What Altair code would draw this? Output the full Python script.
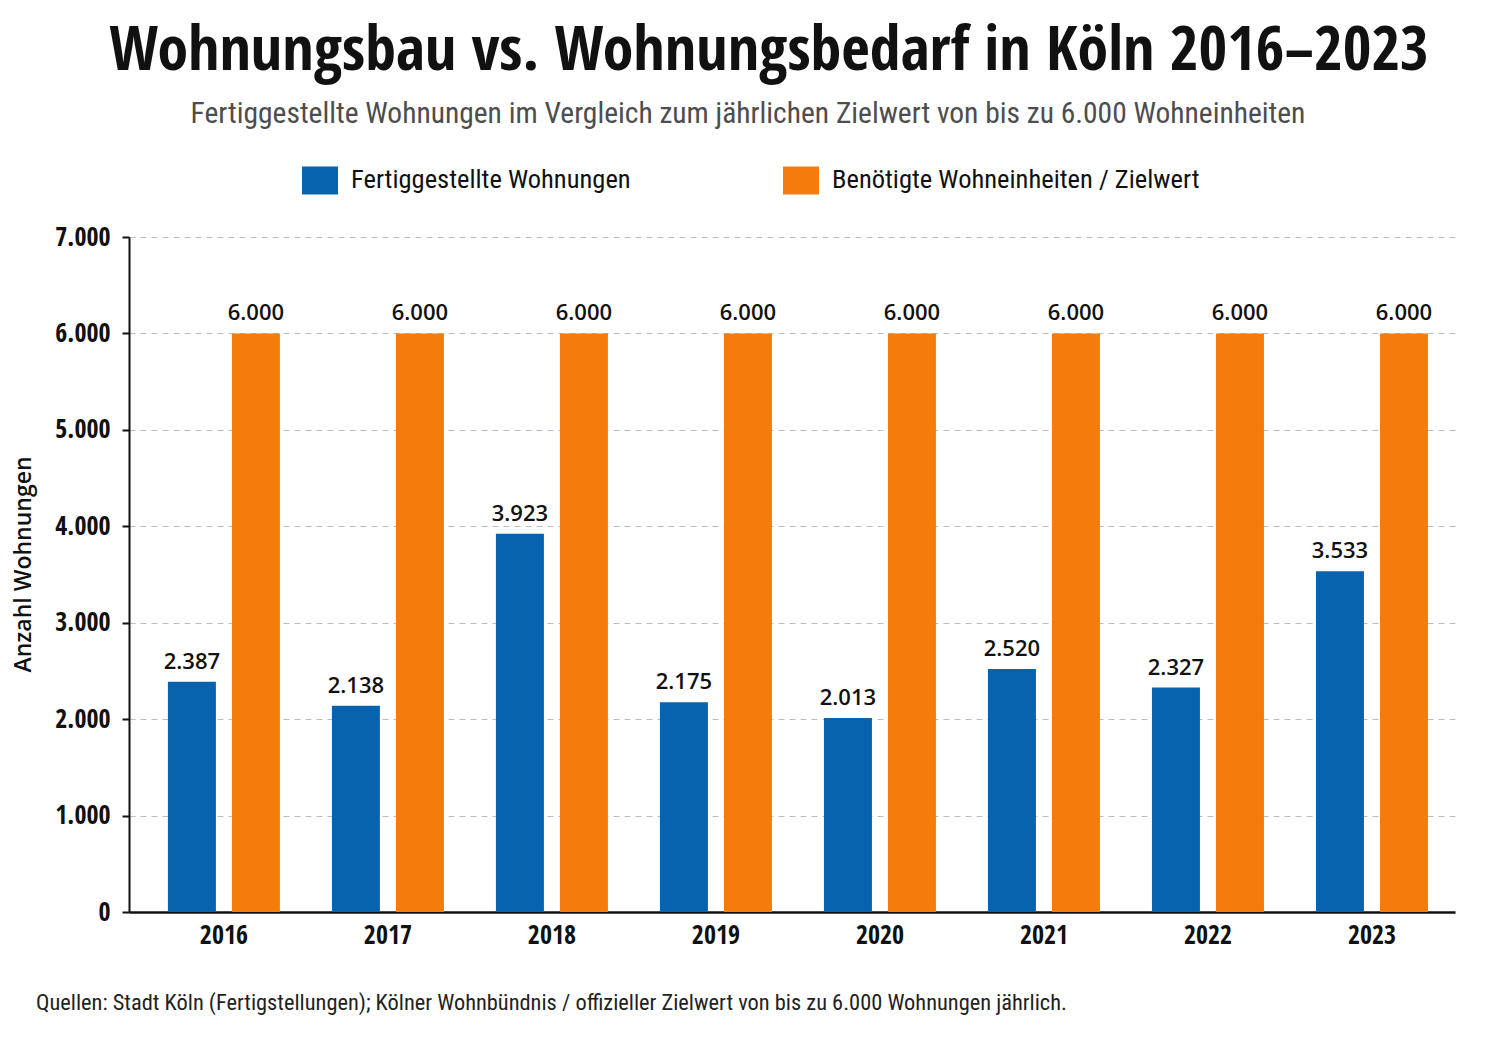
import altair as alt
import pandas as pd

# Completed dwellings in Cologne vs. the annual target
years = ["2016", "2017", "2018", "2019", "2020", "2021", "2022", "2023"]
completed = [2387, 2138, 3923, 2175, 2013, 2520, 2327, 3533]
target = [6000, 6000, 6000, 6000, 6000, 6000, 6000, 6000]
series = ["Fertiggestellte Wohnungen", "Benötigte Wohneinheiten / Zielwert"]
colors = ["#0863AE", "#F57C0A"]
y_ticks = [0, 1000, 2000, 3000, 4000, 5000, 6000, 7000]

title_text = "Wohnungsbau vs. Wohnungsbedarf in Köln 2016–2023"
subtitle_text = "Fertiggestellte Wohnungen im Vergleich zum jährlichen Zielwert von bis zu 6.000 Wohneinheiten"
source_text = "Quellen: Stadt Köln (Fertigstellungen); Kölner Wohnbündnis / offizieller Zielwert von bis zu 6.000 Wohnungen jährlich."

rows = []
for i, yr in enumerate(years):
    rows.append({"Jahr": yr, "Reihe": series[0], "Wert": completed[i]})
    rows.append({"Jahr": yr, "Reihe": series[1], "Wert": target[i]})
df = pd.DataFrame(rows)

BOLD_FONT = "Open Sans Condensed"
TEXT_FONT = "Roboto Condensed"
W, H = 1326, 675

de_fmt = "replace(format(datum.value, ','), ',', '.')"

base = alt.Chart(df).transform_calculate(
    label="replace(format(datum.Wert, ','), ',', '.')"
).encode(
    x=alt.X(
        "Jahr:N",
        sort=years,
        title=None,
        scale=alt.Scale(paddingInner=0.317, paddingOuter=0.201, align=0.59),
        axis=alt.Axis(
            labelAngle=0,
            labelFont=BOLD_FONT,
            labelFontSize=26,
            labelFontWeight="bold",
            labelColor="#111111",
            labelPadding=10,
            ticks=False,
            domainColor="#111111",
            domainWidth=2.5,
            grid=False,
        ),
    ),
    xOffset=alt.XOffset("Reihe:N", sort=series, scale=alt.Scale(paddingInner=0.25)),
    y=alt.Y(
        "Wert:Q",
        scale=alt.Scale(domain=[0, 7000], nice=False),
        axis=alt.Axis(
            values=y_ticks,
            labelExpr=de_fmt,
            labelFont=BOLD_FONT,
            labelFontSize=26,
            labelFontWeight="bold",
            labelColor="#111111",
            labelPadding=12,
            tickSize=7,
            tickWidth=2,
            tickColor="#111111",
            domainColor="#111111",
            domainWidth=2,
            gridColor="#bdbdbd",
            gridDash=[6, 5],
            gridWidth=1,
            title="Anzahl Wohnungen",
            titleFont="Open Sans",
            titleFontSize=23,
            titleFontWeight=600,
            titleColor="#111111",
            titleAngle=-90,
            titleX=-106,
            titleY=327,
            titleAlign="center",
            titleBaseline="middle",
        ),
    ),
)

bars = base.mark_bar().encode(
    color=alt.Color(
        "Reihe:N",
        sort=series,
        scale=alt.Scale(domain=series, range=colors),
        legend=alt.Legend(
            title=None,
            orient="none",
            legendX=173,
            legendY=-75,
            direction="horizontal",
            symbolType="M-1,-0.778H1V0.778H-1Z",
            symbolSize=1296,
            symbolStrokeWidth=0,
            symbolOpacity=1,
            labelFont=TEXT_FONT,
            labelFontSize=26.5,
            labelColor="#111111",
            labelOffset=13,
            labelLimit=1000,
            columnPadding=152,
        ),
    )
)

labels = base.mark_text(
    baseline="alphabetic", dy=-13, fontSize=22, fontWeight=600, color="#111111", font="Open Sans"
).encode(text="label:N")

subtitle = alt.Chart(pd.DataFrame({"t": [subtitle_text]})).mark_text(
    align="center", baseline="alphabetic", fontSize=29.5, color="#4d4d4d", font=TEXT_FONT
).encode(x=alt.value(619), y=alt.value(-114), text="t:N")

footer = alt.Chart(pd.DataFrame({"t": [source_text]})).mark_text(
    align="left", baseline="alphabetic", fontSize=22.4, color="#222222", font=TEXT_FONT
).encode(x=alt.value(-93), y=alt.value(773), text="t:N")

chart = (
    alt.layer(bars, labels, subtitle, footer)
    .properties(
        width=W,
        height=H,
        padding={"left": 129, "top": 237, "right": 36, "bottom": 143},
        autosize=alt.AutoSizeParams(type="none"),
        title=alt.TitleParams(
            text=title_text,
            anchor="middle",
            dx=-23,
            fontSize=62,
            fontWeight="bold",
            font=BOLD_FONT,
            color="#111111",
            offset=16,
        ),
    )
    .configure(font=TEXT_FONT, background="#ffffff")
    .configure_view(stroke=None)
)

chart.save("out.html", embed_options={"renderer": "svg", "actions": False})
